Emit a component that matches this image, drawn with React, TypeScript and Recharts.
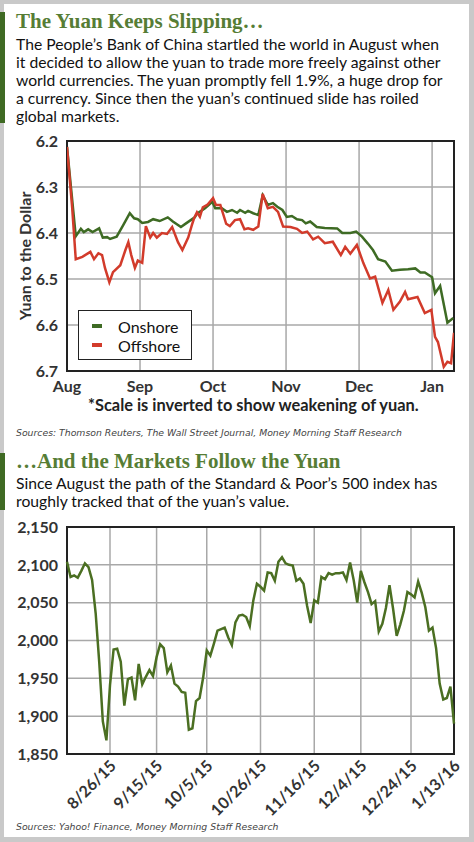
import React from "react";
import {
  LineChart,
  Line,
  XAxis,
  YAxis,
  CartesianGrid,
  ReferenceArea,
} from "recharts";

// ---- Chart 1: yuan per dollar, x = months since Aug 1 ----
const monthLabels = ["Aug", "Sep", "Oct", "Nov", "Dec", "Jan"];
const yuanTicks = [6.2, 6.3, 6.4, 6.5, 6.6, 6.7];

const onshore: [number, number][] = [
  [0, 6.213], [0.12, 6.407], [0.19, 6.391], [0.23, 6.398], [0.29, 6.392],
  [0.35, 6.398], [0.44, 6.39], [0.49, 6.41], [0.55, 6.409], [0.59, 6.413],
  [0.68, 6.408], [0.77, 6.383], [0.86, 6.357], [0.92, 6.368], [0.97, 6.37],
  [1.03, 6.378], [1.11, 6.376], [1.18, 6.37], [1.27, 6.374], [1.38, 6.366],
  [1.45, 6.375], [1.56, 6.387], [1.64, 6.378], [1.75, 6.366], [1.78, 6.358],
  [1.89, 6.346], [1.99, 6.332], [2.03, 6.346], [2.12, 6.346], [2.19, 6.354],
  [2.26, 6.35], [2.33, 6.356], [2.37, 6.35], [2.44, 6.356], [2.48, 6.352],
  [2.55, 6.357], [2.62, 6.361], [2.68, 6.318], [2.75, 6.339], [2.82, 6.335],
  [2.88, 6.343], [2.95, 6.35], [3.01, 6.365], [3.08, 6.363], [3.15, 6.37],
  [3.22, 6.372], [3.27, 6.379], [3.33, 6.375], [3.42, 6.387], [3.53, 6.389],
  [3.7, 6.39], [3.77, 6.4], [3.88, 6.4], [3.96, 6.397], [4.04, 6.408],
  [4.12, 6.423], [4.19, 6.437], [4.26, 6.457], [4.36, 6.462], [4.45, 6.482],
  [4.56, 6.48], [4.67, 6.479], [4.77, 6.477], [4.84, 6.486], [4.9, 6.486],
  [5.0, 6.496], [5.04, 6.531], [5.11, 6.515], [5.21, 6.595], [5.29, 6.585],
];

const offshore: [number, number][] = [
  [0, 6.213], [0.07, 6.343], [0.12, 6.457], [0.21, 6.452], [0.32, 6.441],
  [0.37, 6.457], [0.43, 6.444], [0.48, 6.448], [0.52, 6.476], [0.58, 6.507],
  [0.63, 6.485], [0.73, 6.47], [0.8, 6.437], [0.84, 6.42], [0.88, 6.448],
  [0.93, 6.476], [0.97, 6.46], [1.03, 6.465], [1.08, 6.385], [1.14, 6.41],
  [1.18, 6.4], [1.23, 6.41], [1.3, 6.4], [1.37, 6.402], [1.44, 6.387],
  [1.52, 6.42], [1.58, 6.437], [1.66, 6.41], [1.71, 6.383], [1.74, 6.368],
  [1.78, 6.355], [1.82, 6.365], [1.86, 6.344], [1.92, 6.339], [2.0, 6.324],
  [2.04, 6.339], [2.1, 6.339], [2.18, 6.38], [2.23, 6.385], [2.3, 6.372],
  [2.37, 6.37], [2.43, 6.392], [2.48, 6.39], [2.55, 6.393], [2.62, 6.386],
  [2.68, 6.315], [2.75, 6.346], [2.82, 6.343], [2.89, 6.354], [2.96, 6.386],
  [3.06, 6.387], [3.15, 6.391], [3.22, 6.4], [3.29, 6.397], [3.37, 6.414],
  [3.44, 6.408], [3.53, 6.422], [3.64, 6.419], [3.75, 6.448], [3.81, 6.43],
  [3.88, 6.445], [3.97, 6.426], [4.06, 6.466], [4.15, 6.499], [4.22, 6.495],
  [4.32, 6.552], [4.4, 6.524], [4.47, 6.567], [4.56, 6.549], [4.63, 6.528],
  [4.67, 6.544], [4.8, 6.539], [4.9, 6.574], [4.99, 6.567], [5.04, 6.626],
  [5.08, 6.637], [5.16, 6.691], [5.21, 6.68], [5.26, 6.683], [5.3, 6.617],
];

// ---- Chart 2: S&P 500 daily close ----
const spDates = [
  "8/10/15", "8/11/15", "8/12/15", "8/13/15", "8/14/15", "8/17/15", "8/18/15",
  "8/19/15", "8/20/15", "8/21/15", "8/24/15", "8/25/15", "8/26/15", "8/27/15",
  "8/28/15", "8/31/15", "9/1/15", "9/2/15", "9/3/15", "9/4/15", "9/8/15",
  "9/9/15", "9/10/15", "9/11/15", "9/14/15", "9/15/15", "9/16/15", "9/17/15",
  "9/18/15", "9/21/15", "9/22/15", "9/23/15", "9/24/15", "9/25/15", "9/28/15",
  "9/29/15", "9/30/15", "10/1/15", "10/2/15", "10/5/15", "10/6/15", "10/7/15",
  "10/8/15", "10/9/15", "10/12/15", "10/13/15", "10/14/15", "10/15/15",
  "10/16/15", "10/19/15", "10/20/15", "10/21/15", "10/22/15", "10/23/15",
  "10/26/15", "10/27/15", "10/28/15", "10/29/15", "10/30/15", "11/2/15",
  "11/3/15", "11/4/15", "11/5/15", "11/6/15", "11/9/15", "11/10/15",
  "11/11/15", "11/12/15", "11/13/15", "11/16/15", "11/17/15", "11/18/15",
  "11/19/15", "11/20/15", "11/23/15", "11/24/15", "11/25/15", "11/27/15",
  "11/30/15", "12/1/15", "12/2/15", "12/3/15", "12/4/15", "12/7/15", "12/8/15",
  "12/9/15", "12/10/15", "12/11/15", "12/14/15", "12/15/15", "12/16/15",
  "12/17/15", "12/18/15", "12/21/15", "12/22/15", "12/23/15", "12/24/15",
  "12/28/15", "12/29/15", "12/30/15", "12/31/15", "1/4/16", "1/5/16",
  "1/6/16", "1/7/16", "1/8/16", "1/11/16", "1/12/16", "1/13/16",
];

const spClose = [
  2104, 2084, 2086, 2083, 2092, 2102, 2097, 2080, 2036, 1971, 1893, 1868,
  1941, 1988, 1989, 1972, 1914, 1949, 1951, 1921, 1969, 1942, 1952, 1961,
  1953, 1978, 1995, 1990, 1958, 1967, 1943, 1939, 1932, 1931, 1882, 1884,
  1920, 1924, 1951, 1987, 1980, 1996, 2013, 2015, 2017, 2004, 1994, 2024,
  2033, 2034, 2031, 2019, 2053, 2075, 2071, 2066, 2090, 2089, 2079, 2104,
  2110, 2102, 2100, 2099, 2079, 2082, 2075, 2046, 2023, 2053, 2050, 2084,
  2081, 2089, 2087, 2089, 2089, 2090, 2080, 2103, 2080, 2050, 2092, 2077,
  2064, 2048, 2052, 2012, 2022, 2043, 2073, 2042, 2006, 2021, 2039, 2064,
  2061, 2057, 2078, 2063, 2044, 2013, 2017, 1990, 1943, 1922, 1924, 1939,
  1890,
];

const spTickLabels = [
  "8/26/15", "9/15/15", "10/5/15", "10/26/15",
  "11/16/15", "12/4/15", "12/24/15", "1/13/16",
];
const spTicks = [1850, 1900, 1950, 2000, 2050, 2100, 2150];

const toPoints = (rows: [number, number][]) => rows.map(([m, v]) => ({ m, v }));
const spData = spClose.map((close, i) => ({ i, close }));

const GREEN_TITLE = "#567d35";
const SANS = "Lato, 'Open Sans', sans-serif";
const tickStyle = { fontFamily: SANS, fontSize: 16, fontWeight: 700, fill: "#333" };

const DateTick = (props: any) => {
  const { x, y, payload } = props;
  return (
    <g transform={`translate(${x + 7},${y + 13})`}>
      <text textAnchor="end" transform="rotate(-45)" {...tickStyle} fontSize={16}>
        {spDates[payload.value]}
      </text>
    </g>
  );
};

const bodyLines1 = [
  "The People\u2019s Bank of China startled the world in August when",
  "it decided to allow the yuan to trade more freely against other",
  "world currencies. The yuan promptly fell 1.9%, a huge drop for",
  "a currency. Since then the yuan\u2019s continued slide has roiled",
  "global markets.",
];
const bodyLines2 = [
  "Since August the path of the Standard & Poor\u2019s 500 index has",
  "roughly tracked that of the yuan\u2019s value.",
];

const abs = (left: number, top: number, extra: React.CSSProperties = {}): React.CSSProperties => ({
  position: "absolute",
  left,
  top,
  whiteSpace: "nowrap",
  ...extra,
});

const titleStyle: React.CSSProperties = {
  fontFamily: "'Liberation Serif', serif",
  fontWeight: 700,
  fontSize: 21,
  lineHeight: "22px",
  color: GREEN_TITLE,
};
const bodyStyle: React.CSSProperties = {
  fontFamily: SANS,
  fontSize: 15.7,
  lineHeight: "18px",
  color: "#111",
};
const sourceStyle: React.CSSProperties = {
  fontFamily: "'DejaVu Sans', sans-serif",
  fontStyle: "italic",
  fontSize: 9.3,
  lineHeight: "10px",
  color: "#444",
};

export default function App() {
  return (
    <div style={{ position: "absolute", left: 0, top: 0, width: 474, height: 842, background: "#c9c9c9", overflow: "hidden" }}>
      <div style={{ position: "absolute", left: 4, top: 4, width: 465, height: 833, background: "#fff" }} />
      <div style={{ position: "absolute", left: 0, top: 12, width: 5, height: 111, background: "#3f6a23" }} />
      <div style={{ position: "absolute", left: 0, top: 453, width: 5, height: 57, background: "#3f6a23" }} />

      <div style={abs(16, 10, titleStyle)}>The Yuan Keeps Slipping…</div>
      {bodyLines1.map((t, k) => (
        <div key={k} style={abs(16, 35 + k * 18.1, bodyStyle)}>{t}</div>
      ))}

      <div style={abs(0, 130)}>
        <LineChart width={474} height={271} margin={{ top: 11, right: 20, left: 0, bottom: 0 }}>
          <CartesianGrid stroke="#a8a8a8" strokeWidth={1.5} />
          <XAxis
            type="number"
            dataKey="m"
            domain={[0, 5.3]}
            ticks={[0, 1, 2, 3, 4, 5]}
            tickFormatter={(v: number) => monthLabels[v]}
            allowDataOverflow
            axisLine={false}
            tickLine={false}
            tickMargin={4}
            height={30}
            tick={tickStyle}
          />
          <YAxis
            type="number"
            domain={[6.2, 6.7]}
            ticks={yuanTicks}
            reversed
            allowDataOverflow
            tickFormatter={(v: number) => v.toFixed(1)}
            axisLine={false}
            tickLine={false}
            tickMargin={3}
            width={67}
            tick={tickStyle}
          />
          <ReferenceArea x1={0} x2={5.3} y1={6.2} y2={6.7} fill="none" stroke="#222" strokeWidth={2} />
          <Line data={toPoints(onshore)} dataKey="v" stroke="#3e6b24" strokeWidth={2.5} dot={false} isAnimationActive={false} />
          <Line data={toPoints(offshore)} dataKey="v" stroke="#d23b2b" strokeWidth={2.5} dot={false} isAnimationActive={false} />
        </LineChart>
      </div>
      <div
        style={abs(24, 256, {
          transform: "translate(-50%, -50%) rotate(-90deg)",
          fontFamily: SANS,
          fontWeight: 700,
          fontSize: 16,
          color: "#333",
        })}
      >
        Yuan to the Dollar
      </div>
      <div style={{ position: "absolute", left: 78, top: 310, width: 112, height: 48, border: "1.5px solid #222", background: "#fff" }}>
        {[
          ["Onshore", "#3e6b24"],
          ["Offshore", "#d23b2b"],
        ].map(([name, color], k) => (
          <div key={name} style={{ position: "absolute", left: 0, top: 6 + k * 19, height: 18, display: "flex", alignItems: "center" }}>
            <div style={{ marginLeft: 13, width: 10, height: 4, background: color }} />
            <div style={{ marginLeft: 16, fontFamily: SANS, fontSize: 16, color: "#111" }}>{name}</div>
          </div>
        ))}
      </div>

      <div style={abs(88, 395, { fontFamily: SANS, fontWeight: 700, fontSize: 16.4, color: "#222" })}>
        *Scale is inverted to show weakening of yuan.
      </div>
      <div style={abs(16, 428, sourceStyle)}>
        Sources: Thomson Reuters, The Wall Street Journal, Money Morning Staff Research
      </div>

      <div style={abs(16, 450, titleStyle)}>…And the Markets Follow the Yuan</div>
      {bodyLines2.map((t, k) => (
        <div key={k} style={abs(16, 474 + k * 18.1, bodyStyle)}>{t}</div>
      ))}

      <div style={abs(0, 515)}>
        <LineChart width={474} height={309} data={spData} margin={{ top: 12, right: 20, left: 0, bottom: 0 }}>
          <CartesianGrid stroke="#a8a8a8" strokeWidth={1.5} />
          <XAxis
            type="number"
            dataKey="i"
            domain={[0, spDates.length - 1]}
            ticks={spTickLabels.map((l) => spDates.indexOf(l))}
            axisLine={false}
            tickLine={false}
            tickSize={0}
            tickMargin={0}
            height={70}
            interval={0}
            tick={<DateTick />}
          />
          <YAxis
            type="number"
            domain={[1850, 2150]}
            ticks={spTicks}
            allowDataOverflow
            tickFormatter={(v: number) => v.toLocaleString("en-US")}
            axisLine={false}
            tickLine={false}
            tickMargin={3}
            width={67}
            tick={tickStyle}
          />
          <ReferenceArea x1={0} x2={spDates.length - 1} y1={1850} y2={2150} fill="none" stroke="#222" strokeWidth={2} />
          <Line dataKey="close" stroke="#4b6f22" strokeWidth={2.5} dot={false} isAnimationActive={false} />
        </LineChart>
      </div>
      <div style={abs(16, 822, sourceStyle)}>Sources: Yahoo! Finance, Money Morning Staff Research</div>
    </div>
  );
}
